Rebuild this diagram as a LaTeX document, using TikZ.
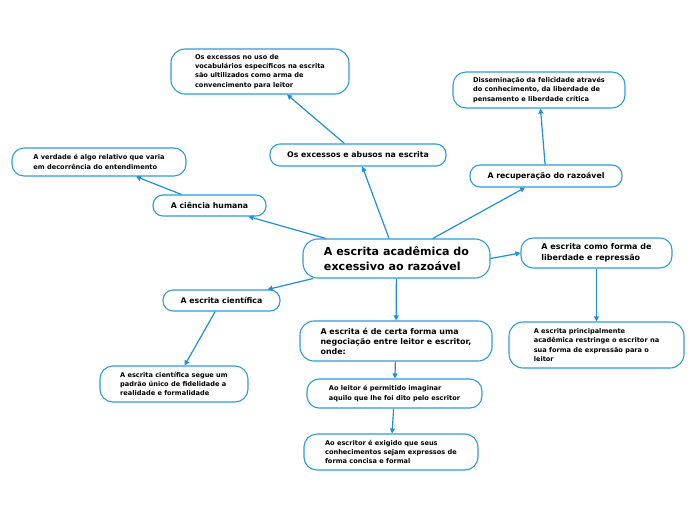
\documentclass[tikz,border=0pt]{standalone}
\usepackage{fontspec}
\setmainfont{DejaVu Sans}
\usetikzlibrary{arrows.meta}
\definecolor{bcol}{RGB}{47,155,220}
\definecolor{acol}{RGB}{30,144,215}
\tikzset{
  box/.style={draw=bcol, line width=1.1pt, rounded corners=10pt, fill=white, inner ysep=0pt, align=left, font=\bfseries},
  small/.style={box, font=\bfseries\fontsize{6.6}{9.2}\selectfont},
  title/.style={box, font=\bfseries\fontsize{7.8}{9}\selectfont},
  arr/.style={draw=acol, line width=1.2pt, -{Triangle[length=5pt,width=5pt]}},
}
\begin{document}
\begin{tikzpicture}[x=1pt,y=-1pt]
\useasboundingbox[fill=white] (0,0) rectangle (696,520);
\node[box, rounded corners=15pt, font=\bfseries\fontsize{11.1}{14.5}\selectfont, minimum width=187pt, minimum height=39pt] (c) at (396.5,258.5) {A escrita acadêmica do\\excessivo ao razoável};
\node[small, minimum width=178pt, minimum height=45pt, rounded corners=14pt] (n2) at (260,71.5) {Os excessos no uso de\\vocabulários específicos na escrita\\são ultilizados como arma de\\convencimento para leitor};
\node[title, minimum width=176pt, minimum height=22pt] (n3) at (358,155) {Os excessos e abusos na escrita};
\node[small, minimum width=172pt, minimum height=36pt, rounded corners=13pt] (n4) at (539,90) {Disseminação da felicidade através\\do conhecimento, da liberdade de\\pensamento e liberdade crítica};
\node[title, minimum width=152pt, minimum height=22pt] (n5) at (546,176) {A recuperação do razoável};
\node[small, minimum width=174pt, minimum height=28pt, rounded corners=12pt] (n6) at (99,162) {A verdade é algo relativo que varia\\em decorrência do entendimento};
\node[title, minimum width=113pt, minimum height=21pt] (n7) at (209.5,205.5) {A ciência humana};
\node[box, font=\bfseries\fontsize{8}{10.5}\selectfont, minimum width=151pt, minimum height=30pt, rounded corners=12pt] (n8) at (596.5,253) {A escrita como forma de\\liberdade e repressão};
\node[title, minimum width=117pt, minimum height=21pt] (n9) at (221.5,300.5) {A escrita científica};
\node[small, minimum width=148pt, minimum height=36pt, rounded corners=13pt] (n10) at (174,384) {A escrita científica segue um\\padrão único de fidelidade a\\realidade e formalidade};
\node[box, font=\bfseries\fontsize{7.9}{10}\selectfont, minimum width=192pt, minimum height=40pt, rounded corners=14pt] (n11) at (396,341) {A escrita é de certa forma uma\\negociação entre leitor e escritor,\\onde:};
\node[small, minimum width=175pt, minimum height=29pt, rounded corners=12pt] (n12) at (394.5,393.5) {Ao leitor é permitido imaginar\\aquilo que lhe foi dito pelo escritor};
\node[small, minimum width=174pt, minimum height=36pt, rounded corners=13pt] (n13) at (391,452) {Ao escritor é exigido que seus\\conhecimentos sejam expressos de\\forma concisa e formal};
\node[small, minimum width=175pt, minimum height=46pt, rounded corners=14pt] (n14) at (596.5,345) {A escrita principalmente\\acadêmica restringe o escritor na\\sua forma de expressão para o\\leitor};
\draw[arr] (c) -- (n3);
\draw[arr] (c) -- (n7);
\draw[arr] (c) -- (n5);
\draw[arr] (c.east) -- (n8.west);
\draw[arr] (c) -- (n9);
\draw[arr] (c) -- (n11);
\draw[arr] (n3) -- (n2);
\draw[arr] (n5) -- (n4);
\draw[arr] (n7) -- (n6);
\draw[arr] (n9) -- (n10);
\draw[arr] (n11) -- (n12);
\draw[arr] (n12) -- (n13);
\draw[arr] (n8) -- (n14);
\end{tikzpicture}
\end{document}
